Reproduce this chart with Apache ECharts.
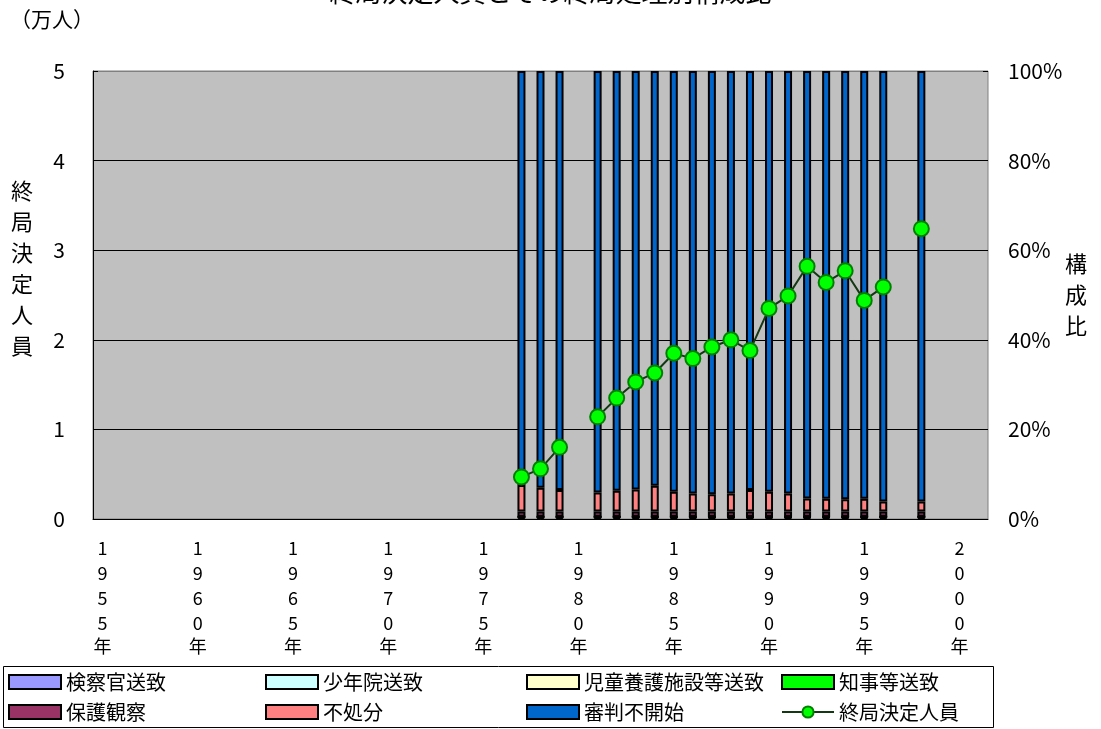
<!DOCTYPE html>
<html>
<head>
<meta charset="utf-8">
<script src="https://cdn.jsdelivr.net/npm/echarts@6/dist/echarts.min.js"></script>
<style>
  html, body { margin: 0; padding: 0; background: #fff; }
  #chart { width: 1101px; height: 729px; }
</style>
</head>
<body>
<div id="chart"></div>
<script>
// categories on the x axis
const years = [];
for (let y = 1955; y <= 2001; y++) years.push(String(y));

// years that have data
const dataYears   = [1977, 1978, 1979, 1981, 1982, 1983, 1984, 1985, 1986, 1987, 1988, 1989, 1990, 1991, 1992, 1993, 1994, 1995, 1996, 1998];
// 終局決定人員 (万人)
const totalPeople = [0.47, 0.56, 0.80, 1.14, 1.35, 1.53, 1.63, 1.85, 1.79, 1.92, 2.00, 1.88, 2.35, 2.49, 2.82, 2.64, 2.77, 2.44, 2.59, 3.24];
// 構成比 (%)
const kensatsu    = [0.3, 0.3, 0.3, 0.3, 0.3, 0.3, 0.3, 0.3, 0.3, 0.3, 0.3, 0.3, 0.3, 0.3, 0.3, 0.3, 0.3, 0.3, 0.3, 0.3];
const shonenin    = [0.1, 0.1, 0.1, 0.1, 0.1, 0.1, 0.1, 0.1, 0.1, 0.1, 0.1, 0.1, 0.1, 0.1, 0.1, 0.1, 0.1, 0.1, 0.1, 0.1];
const jido        = [0.05, 0.05, 0.05, 0.05, 0.05, 0.05, 0.05, 0.05, 0.05, 0.05, 0.05, 0.05, 0.05, 0.05, 0.05, 0.05, 0.05, 0.05, 0.05, 0.05];
const chiji       = [0.05, 0.05, 0.05, 0.05, 0.05, 0.05, 0.05, 0.05, 0.05, 0.05, 0.05, 0.05, 0.05, 0.05, 0.05, 0.05, 0.05, 0.05, 0.05, 0.05];
const hogo        = [1.2, 1.2, 1.2, 1.2, 1.2, 1.2, 1.2, 1.2, 1.2, 1.2, 1.2, 1.2, 1.2, 1.2, 1.2, 1.2, 1.2, 1.2, 1.2, 1.2];
const fushobun    = [5.9, 5.3, 4.8, 4.2, 4.6, 4.9, 5.7, 4.4, 4.0, 3.8, 4.0, 4.8, 4.4, 4.0, 2.9, 2.8, 2.7, 2.8, 2.2, 2.2];
const shinpan     = [92.4, 93.0, 93.5, 94.1, 93.7, 93.4, 92.6, 93.9, 94.3, 94.5, 94.3, 93.5, 93.9, 94.3, 95.4, 95.5, 95.6, 95.5, 96.1, 96.1];

const FONT = '"Noto Sans CJK JP", "Noto Sans", sans-serif';

// spread values over all year categories, null where no data
function spread(values) {
    return years.map(y => {
        const i = dataYears.indexOf(Number(y));
        return i < 0 ? null : values[i];
    });
}

const barDefs = [
    ['検察官送致', kensatsu, '#9999ff'],
    ['少年院送致', shonenin, '#ccffff'],
    ['児童養護施設等送致', jido, '#ffffcc'],
    ['知事等送致', chiji, '#00ff00'],
    ['保護観察', hogo, '#993366'],
    ['不処分', fushobun, '#ff8080'],
    ['審判不開始', shinpan, '#0066cc']
];

const barSeries = barDefs.map(d => ({
    name: d[0],
    type: 'bar',
    stack: 'ratio',
    xAxisIndex: 0,
    yAxisIndex: 1,
    barWidth: 8,
    data: spread(d[1]),
    itemStyle: { color: d[2], borderColor: '#000', borderWidth: 2 }
}));

const lineSeries = {
    name: '終局決定人員',
    type: 'line',
    xAxisIndex: 0,
    yAxisIndex: 0,
    data: spread(totalPeople),
    connectNulls: false,
    showAllSymbol: true,
    symbol: 'circle',
    symbolSize: 15,
    z: 5,
    lineStyle: { color: '#143814', width: 2 },
    itemStyle: { color: '#00ff00', borderColor: '#008000', borderWidth: 2 }
};

// legend slots: name, left, top
const legendSlots = [
    ['検察官送致', 8, 672], ['少年院送致', 265, 672], ['児童養護施設等送致', 526, 672], ['知事等送致', 781, 672],
    ['保護観察', 8, 702], ['不処分', 265, 702], ['審判不開始', 526, 702], ['終局決定人員', 781, 702]
];

const chart = echarts.init(document.getElementById('chart'));
chart.setOption({
    animation: false,
    backgroundColor: '#fff',
    textStyle: { fontFamily: FONT },
    title: {
        text: '終局決定人員とその終局処理別構成比',
        left: 'center',
        top: -26,
        textStyle: { fontFamily: FONT, fontSize: 26, fontWeight: 'normal', color: '#000' }
    },
    grid: {
        left: 93, right: 113, top: 71, bottom: 210,
        show: true, backgroundColor: '#c0c0c0', borderColor: '#808080', borderWidth: 1
    },
    legend: legendSlots.map(s => ({
        left: s[1],
        top: s[2],
        padding: 0,
        itemWidth: 52,
        itemHeight: 14,
        itemGap: 4,
        data: [s[0] === '終局決定人員' ? { name: s[0] } : { name: s[0], icon: 'rect' }],
        textStyle: { fontFamily: FONT, fontSize: 20, color: '#000' }
    })),
    xAxis: {
        type: 'category',
        data: years,
        boundaryGap: true,
        axisLine: { lineStyle: { color: '#000', width: 1 } },
        axisTick: { inside: true, length: 5, interval: 0, lineStyle: { color: '#000' } },
        axisLabel: {
            interval: 4,
            margin: 17,
            fontFamily: FONT,
            fontSize: 18,
            color: '#000',
            lineHeight: 25,
            formatter: v => v.split('').join('\n') + '\n{y|年}',
            rich: { y: { fontFamily: FONT, fontSize: 18, lineHeight: 20, color: '#000' } }
        }
    },
    yAxis: [
        {
            type: 'value',
            min: 0, max: 5, interval: 1,
            axisLine: { show: true, lineStyle: { color: '#000' } },
            axisTick: { show: true, inside: true, length: 5, lineStyle: { color: '#000' } },
            axisLabel: { margin: 28, fontFamily: FONT, fontSize: 21, color: '#000' },
            splitLine: { show: true, lineStyle: { color: ['#000', '#000', '#000', '#000', '#000', '#808080'], width: 1 } }
        },
        {
            type: 'value',
            min: 0, max: 100, interval: 20,
            position: 'right',
            axisLine: { show: false },
            axisTick: { show: true, inside: true, length: 5, lineStyle: { color: '#000' } },
            axisLabel: { margin: 20, fontFamily: FONT, fontSize: 21, color: '#000', formatter: '{value}%' },
            splitLine: { show: false }
        }
    ],
    graphic: [
        {
            type: 'rect', z: -1, silent: true,
            shape: { x: 3.5, y: 666.5, width: 990, height: 61 },
            style: { fill: '#fff', stroke: '#000', lineWidth: 1 }
        },
        {
            type: 'text', left: 10, top: 9,
            style: { text: '（万人）', fontFamily: FONT, fontSize: 21, fill: '#000' }
        },
        {
            type: 'text', left: 11, top: 175,
            style: { text: '終\n局\n決\n定\n人\n員', fontFamily: FONT, fontSize: 22, lineHeight: 31, fill: '#000' }
        },
        {
            type: 'text', left: 1065, top: 248,
            style: { text: '構\n成\n比', fontFamily: FONT, fontSize: 22, lineHeight: 31, fill: '#000' }
        }
    ],
    series: barSeries.concat([lineSeries])
});
</script>
</body>
</html>
